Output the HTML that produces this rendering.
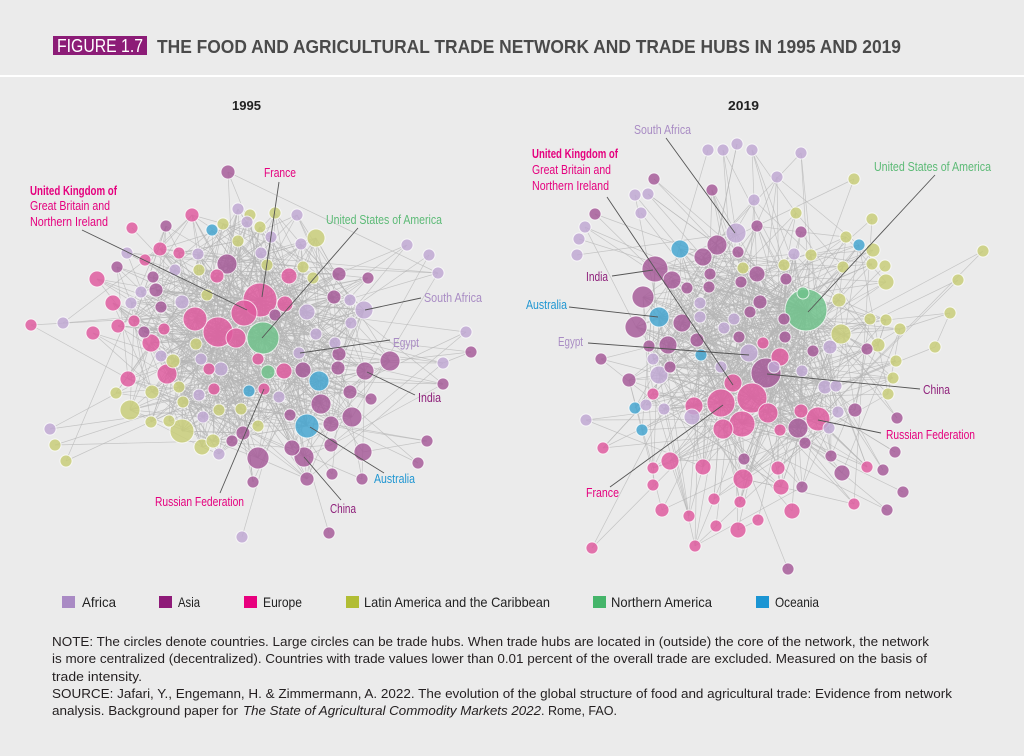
<!DOCTYPE html>
<html><head><meta charset="utf-8"><style>body{margin:0;background:#ebebeb}svg{display:block}</style></head>
<body>
<svg id="s" width="1024" height="756" xmlns="http://www.w3.org/2000/svg" font-family="'Liberation Sans Narrow','Liberation Sans',sans-serif">
<rect width="1024" height="756" fill="#ebebeb"/>
<rect x="0" y="75" width="1024" height="2" fill="#ffffff"/>
<rect x="53" y="36" width="94" height="19" fill="#8c1c77"/>
<text x="57" y="52" fill="#ffffff" font-size="18" textLength="86" lengthAdjust="spacingAndGlyphs">FIGURE 1.7</text>
<text x="157" y="53" fill="#4a4a4a" font-size="18" font-weight="bold" textLength="744" lengthAdjust="spacingAndGlyphs">THE FOOD AND AGRICULTURAL TRADE NETWORK AND TRADE HUBS IN 1995 AND 2019</text>
<text x="232" y="110" fill="#222" font-size="13" font-weight="bold" textLength="29" lengthAdjust="spacingAndGlyphs">1995</text>
<text x="728" y="110" fill="#222" font-size="13" font-weight="bold" textLength="31" lengthAdjust="spacingAndGlyphs">2019</text>

<g id="e1" stroke="#b5b5b5" stroke-width="0.7" stroke-opacity="0.72"></g>
<g id="e2" stroke="#b5b5b5" stroke-width="0.7" stroke-opacity="0.72"></g>
<g id="n1" stroke="#ffffff" stroke-width="1" stroke-opacity="0.75"></g>
<g id="n2" stroke="#ffffff" stroke-width="1" stroke-opacity="0.75"></g>

<g stroke="#555" stroke-width="0.9">
<line x1="279" y1="182" x2="262" y2="297"/>
<line x1="82" y1="230" x2="247" y2="310"/>
<line x1="358" y1="228" x2="262" y2="338"/>
<line x1="421" y1="298" x2="365" y2="310"/>
<line x1="390" y1="340" x2="300" y2="353"/>
<line x1="415" y1="395" x2="367" y2="372"/>
<line x1="384" y1="473" x2="310" y2="427"/>
<line x1="341" y1="500" x2="304" y2="457"/>
<line x1="220" y1="493" x2="264" y2="389"/>
<line x1="666" y1="138" x2="735" y2="233"/>
<line x1="607" y1="197" x2="733" y2="385"/>
<line x1="935" y1="175" x2="808" y2="312"/>
<line x1="612" y1="276" x2="653" y2="270"/>
<line x1="569" y1="307" x2="658" y2="317"/>
<line x1="588" y1="343" x2="749" y2="355"/>
<line x1="920" y1="389" x2="767" y2="374"/>
<line x1="881" y1="433" x2="818" y2="420"/>
<line x1="610" y1="487" x2="723" y2="405"/>
</g>

<g font-size="13">
<text x="264" y="177" fill="#e5007e" textLength="32" lengthAdjust="spacingAndGlyphs">France</text>
<text x="30" y="195" fill="#e5007e" font-weight="bold" textLength="87" lengthAdjust="spacingAndGlyphs">United Kingdom of</text>
<text x="30" y="210" fill="#e5007e" textLength="80" lengthAdjust="spacingAndGlyphs">Great Britain and</text>
<text x="30" y="226" fill="#e5007e" textLength="78" lengthAdjust="spacingAndGlyphs">Northern Ireland</text>
<text x="326" y="224" fill="#5cba76" textLength="116" lengthAdjust="spacingAndGlyphs">United States of America</text>
<text x="424" y="302" fill="#a98cc4" textLength="58" lengthAdjust="spacingAndGlyphs">South Africa</text>
<text x="393" y="347" fill="#a98cc4" textLength="26" lengthAdjust="spacingAndGlyphs">Egypt</text>
<text x="418" y="402" fill="#8e1f7a" textLength="23" lengthAdjust="spacingAndGlyphs">India</text>
<text x="374" y="483" fill="#1f96d2" textLength="41" lengthAdjust="spacingAndGlyphs">Australia</text>
<text x="330" y="513" fill="#8e1f7a" textLength="26" lengthAdjust="spacingAndGlyphs">China</text>
<text x="155" y="506" fill="#e5007e" textLength="89" lengthAdjust="spacingAndGlyphs">Russian Federation</text>

<text x="634" y="134" fill="#a98cc4" textLength="57" lengthAdjust="spacingAndGlyphs">South Africa</text>
<text x="532" y="158" fill="#e5007e" font-weight="bold" textLength="86" lengthAdjust="spacingAndGlyphs">United Kingdom of</text>
<text x="532" y="174" fill="#e5007e" textLength="79" lengthAdjust="spacingAndGlyphs">Great Britain and</text>
<text x="532" y="190" fill="#e5007e" textLength="77" lengthAdjust="spacingAndGlyphs">Northern Ireland</text>
<text x="874" y="171" fill="#5cba76" textLength="117" lengthAdjust="spacingAndGlyphs">United States of America</text>
<text x="586" y="281" fill="#8e1f7a" textLength="22" lengthAdjust="spacingAndGlyphs">India</text>
<text x="526" y="309" fill="#1f96d2" textLength="41" lengthAdjust="spacingAndGlyphs">Australia</text>
<text x="558" y="346" fill="#a98cc4" textLength="25" lengthAdjust="spacingAndGlyphs">Egypt</text>
<text x="923" y="394" fill="#8e1f7a" textLength="27" lengthAdjust="spacingAndGlyphs">China</text>
<text x="886" y="439" fill="#e5007e" textLength="89" lengthAdjust="spacingAndGlyphs">Russian Federation</text>
<text x="586" y="497" fill="#e5007e" textLength="33" lengthAdjust="spacingAndGlyphs">France</text>
</g>

<g font-size="14" fill="#222">
<rect x="62" y="596" width="13" height="12" fill="#a98ac4"/>
<text x="82" y="607" textLength="34" lengthAdjust="spacingAndGlyphs">Africa</text>
<rect x="159" y="596" width="13" height="12" fill="#8e1a78"/>
<text x="178" y="607" textLength="22" lengthAdjust="spacingAndGlyphs">Asia</text>
<rect x="244" y="596" width="13" height="12" fill="#e8007e"/>
<text x="263" y="607" textLength="39" lengthAdjust="spacingAndGlyphs">Europe</text>
<rect x="346" y="596" width="13" height="12" fill="#b1bd34"/>
<text x="364" y="607" textLength="186" lengthAdjust="spacingAndGlyphs">Latin America and the Caribbean</text>
<rect x="593" y="596" width="13" height="12" fill="#45b56a"/>
<text x="611" y="607" textLength="101" lengthAdjust="spacingAndGlyphs">Northern America</text>
<rect x="756" y="596" width="13" height="12" fill="#1b95d3"/>
<text x="775" y="607" textLength="44" lengthAdjust="spacingAndGlyphs">Oceania</text>
</g>

<g font-size="13" fill="#231f20">
<text x="52" y="646" textLength="877" lengthAdjust="spacingAndGlyphs">NOTE: The circles denote countries. Large circles can be trade hubs. When trade hubs are located in (outside) the core of the network, the network</text>
<text x="52" y="663" textLength="875" lengthAdjust="spacingAndGlyphs">is more centralized (decentralized). Countries with trade values lower than 0.01 percent of the overall trade are excluded. Measured on the basis of</text>
<text x="52" y="681" textLength="90" lengthAdjust="spacingAndGlyphs">trade intensity.</text>
<text x="52" y="698" textLength="900" lengthAdjust="spacingAndGlyphs">SOURCE: Jafari, Y., Engemann, H. &amp; Zimmermann, A. 2022. The evolution of the global structure of food and agricultural trade: Evidence from network</text>
<text x="52" y="715" textLength="186" lengthAdjust="spacingAndGlyphs">analysis. Background paper for</text>
<text x="243" y="715" font-style="italic" textLength="298" lengthAdjust="spacingAndGlyphs">The State of Agricultural Commodity Markets 2022</text>
<text x="541" y="715" textLength="76" lengthAdjust="spacingAndGlyphs">. Rome, FAO.</text>
</g>
</svg>

<script>
const C={A:'#c0a8d3',S:'#a65b98',E:'#df5a9e',L:'#c8cd78',N:'#70c28c',O:'#45a6d0'};
const L1=[[228,172,7,'S'],[192,215,7,'E'],[238,209,6,'A'],[250,215,6,'L'],[275,213,6,'L'],[297,215,6,'A'],[212,230,6,'O'],[223,224,6,'L'],[247,222,6,'A'],[260,227,6,'L'],[166,226,6,'S'],[132,228,6,'E'],[316,238,9,'L'],[301,244,6,'A'],[271,237,6,'A'],[238,241,6,'L'],[261,253,6,'A'],[227,264,10,'S'],[198,254,6,'A'],[179,253,6,'E'],[160,249,7,'E'],[127,253,6,'A'],[145,260,6,'E'],[117,267,6,'S'],[97,279,8,'E'],[153,277,6,'S'],[175,270,6,'A'],[199,270,6,'L'],[217,276,7,'E'],[267,265,6,'L'],[303,267,6,'L'],[289,276,8,'E'],[313,278,6,'L'],[339,274,7,'S'],[368,278,6,'S'],[407,245,6,'A'],[429,255,6,'A'],[438,273,6,'A'],[156,290,7,'S'],[141,292,6,'A'],[131,303,6,'A'],[113,303,8,'E'],[161,307,6,'S'],[182,302,7,'A'],[207,295,6,'L'],[260,300,17,'E'],[285,304,8,'E'],[334,297,7,'S'],[350,300,6,'A'],[307,312,8,'A'],[364,310,9,'A'],[244,313,13,'E'],[275,315,6,'S'],[195,319,12,'E'],[218,332,15,'E'],[236,338,10,'E'],[263,338,16,'N'],[351,323,6,'A'],[316,334,6,'A'],[335,343,6,'A'],[31,325,6,'E'],[63,323,6,'A'],[93,333,7,'E'],[118,326,7,'E'],[134,321,6,'E'],[144,332,6,'S'],[151,343,9,'E'],[164,329,6,'E'],[196,344,6,'L'],[161,356,6,'A'],[173,361,7,'L'],[167,374,10,'E'],[201,359,6,'A'],[209,369,6,'E'],[221,369,7,'A'],[258,359,6,'E'],[268,372,7,'N'],[284,371,8,'E'],[299,353,6,'A'],[339,354,7,'S'],[338,368,7,'S'],[303,370,8,'S'],[319,381,10,'O'],[365,371,9,'S'],[390,361,10,'S'],[466,332,6,'A'],[471,352,6,'S'],[443,363,6,'A'],[443,384,6,'S'],[128,379,8,'E'],[116,393,6,'L'],[152,392,7,'L'],[179,387,6,'L'],[199,395,6,'A'],[214,389,6,'E'],[249,391,6,'O'],[264,389,6,'E'],[279,397,6,'A'],[183,402,6,'L'],[219,410,6,'L'],[241,409,6,'L'],[321,404,10,'S'],[350,392,7,'S'],[371,399,6,'S'],[130,410,10,'L'],[151,422,6,'L'],[169,421,6,'L'],[182,431,12,'L'],[203,417,6,'A'],[258,426,6,'L'],[290,415,6,'S'],[307,426,12,'O'],[331,424,8,'S'],[352,417,10,'S'],[243,433,7,'S'],[232,441,6,'S'],[213,441,7,'L'],[202,447,8,'L'],[219,454,6,'A'],[258,458,11,'S'],[292,448,8,'S'],[304,457,10,'S'],[331,445,7,'S'],[363,452,9,'S'],[427,441,6,'S'],[418,463,6,'S'],[332,474,6,'S'],[362,479,6,'S'],[307,479,7,'S'],[253,482,6,'S'],[50,429,6,'A'],[55,445,6,'L'],[66,461,6,'L'],[242,537,6,'A'],[329,533,6,'S']];
const L2=[[708,150,6,'A'],[723,150,6,'A'],[737,144,6,'A'],[752,150,6,'A'],[801,153,6,'A'],[777,177,6,'A'],[754,200,6,'A'],[712,190,6,'S'],[654,179,6,'S'],[635,195,6,'A'],[648,194,6,'A'],[641,213,6,'A'],[595,214,6,'S'],[585,227,6,'A'],[579,239,6,'A'],[577,255,6,'A'],[736,233,10,'A'],[757,226,6,'S'],[717,245,10,'S'],[680,249,9,'O'],[703,257,9,'S'],[738,252,6,'S'],[655,269,13,'S'],[672,280,9,'S'],[687,288,6,'S'],[710,274,6,'S'],[709,287,6,'S'],[743,268,6,'L'],[757,274,8,'S'],[741,282,6,'S'],[643,297,11,'S'],[700,303,6,'A'],[700,317,6,'A'],[659,317,10,'O'],[682,323,9,'S'],[636,327,11,'S'],[760,302,7,'S'],[750,312,6,'S'],[734,319,6,'A'],[724,328,6,'A'],[697,340,7,'S'],[668,345,9,'S'],[649,346,6,'S'],[739,337,6,'S'],[763,343,6,'E'],[749,353,9,'A'],[701,355,6,'O'],[653,359,6,'A'],[670,367,6,'S'],[601,359,6,'S'],[659,375,9,'A'],[629,380,7,'S'],[721,367,6,'A'],[780,357,9,'E'],[766,373,15,'S'],[774,367,6,'A'],[733,383,9,'E'],[752,398,15,'E'],[721,403,14,'E'],[742,424,13,'E'],[723,429,10,'E'],[694,406,9,'E'],[692,417,8,'A'],[768,413,10,'E'],[780,430,6,'E'],[798,428,10,'S'],[801,411,7,'E'],[818,419,12,'E'],[829,428,6,'A'],[805,443,6,'S'],[838,412,6,'A'],[855,410,7,'S'],[897,418,6,'S'],[895,452,6,'S'],[883,470,6,'S'],[903,492,6,'S'],[887,510,6,'S'],[867,467,6,'E'],[854,504,6,'E'],[842,473,8,'S'],[831,456,6,'S'],[802,371,6,'A'],[813,351,6,'S'],[830,347,7,'A'],[825,387,7,'A'],[836,386,6,'A'],[867,349,6,'S'],[785,337,6,'S'],[784,319,6,'S'],[806,310,21,'N'],[803,293,6,'N'],[786,279,6,'S'],[784,265,6,'L'],[794,254,6,'A'],[811,255,6,'L'],[801,232,6,'S'],[796,213,6,'L'],[854,179,6,'L'],[872,219,6,'L'],[846,237,6,'L'],[859,245,6,'O'],[873,250,7,'L'],[872,264,6,'L'],[885,266,6,'L'],[886,282,8,'L'],[843,267,6,'L'],[839,300,7,'L'],[841,334,10,'L'],[870,319,6,'L'],[886,320,6,'L'],[900,329,6,'L'],[878,345,7,'L'],[896,361,6,'L'],[893,378,6,'L'],[888,394,6,'L'],[950,313,6,'L'],[935,347,6,'L'],[958,280,6,'L'],[983,251,6,'L'],[653,394,6,'E'],[635,408,6,'O'],[646,405,6,'A'],[664,409,6,'A'],[642,430,6,'O'],[586,420,6,'A'],[603,448,6,'E'],[670,461,9,'E'],[653,468,6,'E'],[653,485,6,'E'],[703,467,8,'E'],[744,459,6,'S'],[743,479,10,'E'],[778,468,7,'E'],[781,487,8,'E'],[802,487,6,'S'],[714,499,6,'E'],[740,502,6,'E'],[662,510,7,'E'],[689,516,6,'E'],[716,526,6,'E'],[758,520,6,'E'],[792,511,8,'E'],[738,530,8,'E'],[695,546,6,'E'],[592,548,6,'E'],[788,569,6,'S']];

function build(nodes,cx,cy,seed,eid,nid){
  let s=seed;
  const R=()=>{s=(s*1103515245+12345)%2147483648;return s/2147483648;};
  const n=nodes.length;let out='';
  for(let i=0;i<n;i++){
    const a=nodes[i];const d=Math.hypot(a[0]-cx,a[1]-cy);
    const k=d>150?(R()<0.5?1:2):d>115?4:d>75?8:11;
    const w=[];let tot=0;
    for(let j=0;j<n;j++){
      if(j===i){w.push(0);continue;}
      const b=nodes[j];
      const dd=Math.hypot(a[0]-b[0],a[1]-b[1]);
      const dc=Math.hypot(b[0]-cx,b[1]-cy);
      const v=b[2]*b[2]/(1+(dd/120)*(dd/120))/(1+(dc/110)*(dc/110));
      w.push(v);tot+=v;
    }
    for(let t=0;t<k;t++){
      let r=R()*tot;let j=0;
      while(j<n-1&&r>w[j]){r-=w[j];j++;}
      const b=nodes[j];
      out+='<line x1="'+a[0]+'" y1="'+a[1]+'" x2="'+b[0]+'" y2="'+b[1]+'"/>';
    }
  }
  document.getElementById(eid).innerHTML=out;
  const sorted=nodes.slice().sort((p,q)=>q[2]-p[2]);
  let c='';
  for(const a of sorted){
    c+='<circle cx="'+a[0]+'" cy="'+a[1]+'" r="'+a[2]+'" fill="'+C[a[3]]+'" fill-opacity="0.84"/>';
  }
  document.getElementById(nid).innerHTML=c;
}
build(L1,255,340,12345,'e1','n1');
build(L2,755,350,67890,'e2','n2');
</script>
</body></html>
